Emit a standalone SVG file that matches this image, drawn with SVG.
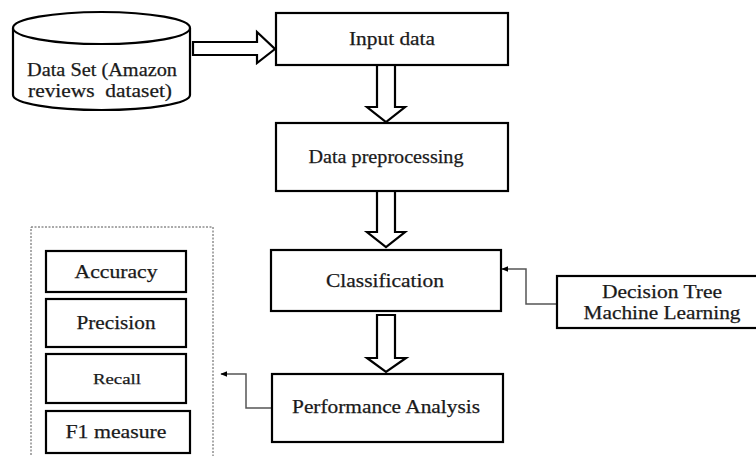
<svg xmlns="http://www.w3.org/2000/svg" width="756" height="456" viewBox="0 0 756 456">
<style>
.box{fill:#fff;stroke:#000;stroke-width:2.2}
.harrow{fill:#fff;stroke:#000;stroke-width:2.2;stroke-linejoin:miter}
.t{font-family:"Liberation Serif","Times New Roman",serif;font-size:19px;fill:#1a1a1a;stroke:#1a1a1a;stroke-width:0.25;text-anchor:middle}
.conn{fill:none;stroke:#555;stroke-width:1.5}
</style>
<defs>
<marker id="ah" viewBox="0 0 10 10" refX="9" refY="5" markerWidth="7" markerHeight="7" orient="auto" markerUnits="userSpaceOnUse">
<path d="M0,1 L10,5 L0,9 Z" fill="#000"/>
</marker>
</defs>
<rect width="756" height="456" fill="#fff"/>

<g id="dataset">
<path class="box" d="M13,28 L13,95 A88.5,15 0 0 0 190,95 L190,28"/>
<ellipse class="box" cx="101.5" cy="28" rx="88.5" ry="16"/>
<text class="t" x="102" y="76" textLength="150" lengthAdjust="spacingAndGlyphs">Data Set (Amazon</text>
<text class="t" x="100" y="97" textLength="144" lengthAdjust="spacingAndGlyphs" xml:space="preserve">reviews  dataset)</text>
</g>

<g id="connectors">
<path class="harrow" d="M193,42 L257,42 L257,32 L275,49 L257,63 L257,55 L193,55 Z"/>
<path class="harrow" d="M377,65 L377,107 L367,107 L386,122 L405,107 L395,107 L395,65 Z"/>
<path class="harrow" d="M377,191 L377,232 L367,232 L386,247 L405,232 L395,232 L395,191 Z"/>
<path class="harrow" d="M377,315 L377,358 L367,358 L386,372 L406,358 L395,358 L395,315 Z"/>
<path class="conn" d="M557,304 L526,304 L526,269 L502,269" marker-end="url(#ah)"/>
<path class="conn" d="M272,408 L246,408 L246,374 L221,374" marker-end="url(#ah)"/>
</g>

<g id="input-data">
<rect class="box" x="276" y="13" width="232" height="52"/>
<text class="t" x="392" y="45" textLength="86" lengthAdjust="spacingAndGlyphs">Input data</text>
</g>

<g id="data-preprocessing">
<rect class="box" x="276" y="123" width="232" height="68"/>
<text class="t" x="386" y="163" textLength="155" lengthAdjust="spacingAndGlyphs">Data preprocessing</text>
</g>

<g id="classification">
<rect class="box" x="271" y="250" width="230" height="61"/>
<text class="t" x="385" y="287" textLength="118" lengthAdjust="spacingAndGlyphs">Classification</text>
</g>

<g id="decision-tree">
<rect class="box" x="557" y="276" width="205" height="52"/>
<text class="t" x="662" y="298" textLength="120" lengthAdjust="spacingAndGlyphs">Decision Tree</text>
<text class="t" x="662" y="319" textLength="157" lengthAdjust="spacingAndGlyphs">Machine Learning</text>
</g>

<g id="performance-analysis">
<rect class="box" x="272" y="374" width="231" height="68"/>
<text class="t" x="386" y="413" textLength="188" lengthAdjust="spacingAndGlyphs">Performance Analysis</text>
</g>

<g id="metrics">
<rect x="31" y="227" width="182" height="240" fill="none" stroke="#555" stroke-width="1" stroke-dasharray="2,1.5"/>
<g id="accuracy">
<rect class="box" x="46" y="251" width="140" height="41"/>
<text class="t" x="116" y="278" textLength="83" lengthAdjust="spacingAndGlyphs">Accuracy</text>
</g>
<g id="precision">
<rect class="box" x="46" y="299" width="140" height="48"/>
<text class="t" x="116" y="329" textLength="79" lengthAdjust="spacingAndGlyphs">Precision</text>
</g>
<g id="recall">
<rect class="box" x="46" y="354" width="140" height="49"/>
<text class="t" x="117" y="384" style="font-size:15px" textLength="48" lengthAdjust="spacingAndGlyphs">Recall</text>
</g>
<g id="f1-measure">
<rect class="box" x="46" y="411" width="144" height="42"/>
<text class="t" x="116" y="438" textLength="101" lengthAdjust="spacingAndGlyphs">F1 measure</text>
</g>
</g>
</svg>
